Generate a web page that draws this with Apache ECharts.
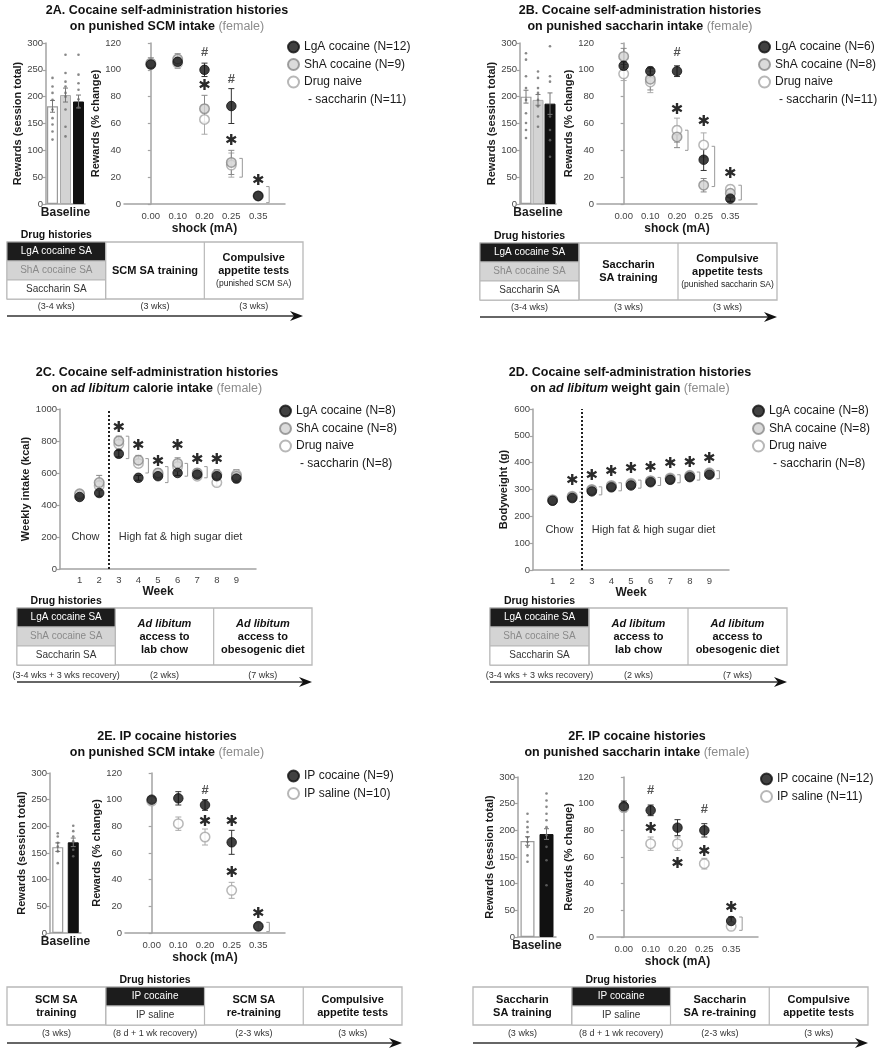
<!DOCTYPE html>
<html><head><meta charset="utf-8">
<script src="https://cdn.jsdelivr.net/npm/echarts/dist/echarts.min.js"></script>
<style>html,body{margin:0;padding:0;background:#fff}#c{width:885px;height:1050px}</style>
</head><body><div id="c"></div>
<script>
// ================= DATA =================
const shockLabels = ['0.00', '0.10', '0.20', '0.25', '0.35'];
const shockPos = [0, 1, 2, 3, 4];
const weekPos = [1, 2, 3, 4, 5, 6, 7, 8, 9];
const dietSwitchWeek = 2.5;

// ---- 2A ----
const A_barGroups = ['Saccharin SA', 'ShA cocaine SA', 'LgA cocaine SA'];
const A_barMean = [182, 203, 191];
const A_barSem = [11, 13, 12];
const A_dotsNaive = [235, 219, 207, 194, 176, 160, 148, 135, 120];
const A_dotsShA = [278, 244, 228, 219, 207, 200, 176, 144, 126];
const A_dotsLgA = [278, 241, 225, 213, 195, 180];
const A_names = ['LgA cocaine (N=12)', 'ShA cocaine (N=9)', 'Drug naive'];
const A_nameCont = '- saccharin (N=11)';
const A_LgA = [104, 106, 100, 73, 6];
const A_LgA_sem = [3, 3, 5, 13, 2];
const A_ShA = [105, 108, 71, 31, 6];
const A_ShA_sem = [4, 4, 10, 9, 2];
const A_naive = [104, 105, 63, 29, 6];
const A_naive_sem = [3, 4, 11, 9, 2];
const A_stars = [[2, 88], [3, 47], [4, 17]];
const A_hashes = [[2, 113], [3, 93]];
const A_brackets = [[3, 20, 34], [4, 1, 13]];

// ---- 2B ----
const B_barMean = [200, 194, 187];
const B_barSem = [12, 10, 20];
const B_dotsNaive = [281, 269, 238, 216, 194, 169, 151, 138, 123];
const B_dotsShA = [247, 235, 216, 207, 194, 182, 163, 144];
const B_dotsLgA = [294, 238, 228, 163, 138, 119, 88];
const B_names = ['LgA cocaine (N=6)', 'ShA cocaine (N=8)', 'Drug naive'];
const B_nameCont = '- saccharin (N=11)';
const B_LgA = [103, 99, 99, 33, 4];
const B_LgA_sem = [3, 3, 4, 8, 2];
const B_ShA = [110, 93, 50, 14, 8];
const B_ShA_sem = [6, 8, 8, 5, 3];
const B_naive = [97, 91, 55, 44, 11];
const B_naive_sem = [5, 8, 9, 9, 3];
const B_stars = [[2, 70], [3, 61], [4, 22]];
const B_hashes = [[2, 113]];
const B_brackets = [[2, 40, 55], [3, 13, 43], [4, 3, 14]];

// ---- 2C ----
const C_names = ['LgA cocaine (N=8)', 'ShA cocaine (N=8)', 'Drug naive'];
const C_nameCont = '- saccharin (N=8)';
const C_LgA = [450, 475, 720, 570, 580, 600, 590, 580, 565];
const C_LgA_sem = [15, 20, 20, 15, 15, 15, 15, 20, 15];
const C_ShA = [470, 540, 800, 680, 600, 660, 600, 590, 580];
const C_ShA_sem = [20, 45, 30, 30, 25, 35, 25, 30, 40];
const C_naive = [460, 520, 780, 660, 590, 640, 580, 540, 590];
const C_naive_sem = [20, 30, 25, 25, 20, 25, 20, 20, 30];
const C_stars = [[3, 880], [4, 770], [5, 670], [6, 770], [7, 680], [8, 680]];
const C_brackets = [[3, 690, 830], [4, 600, 690], [5, 540, 640], [6, 580, 660], [7, 570, 640]];
const C_regionText = ['Chow', 'High fat & high sugar diet'];
const C_regionPos = [[1.3, 200], [6.15, 200]];

// ---- 2D ----
const D_LgA = [258, 268, 293, 308, 315, 327, 336, 346, 355];
const D_LgA_sem = [6, 6, 6, 6, 6, 6, 7, 7, 7];
const D_ShA = [260, 272, 298, 312, 320, 331, 340, 350, 360];
const D_ShA_sem = [6, 7, 7, 7, 7, 7, 7, 8, 8];
const D_naive = [262, 275, 300, 315, 323, 333, 343, 353, 362];
const D_naive_sem = [6, 7, 7, 7, 7, 7, 8, 8, 8];
const D_stars = [[2, 330], [3, 350], [4, 363], [5, 375], [6, 381], [7, 395], [8, 400], [9, 412]];
const D_brackets = [[2, 255, 290], [3, 280, 310], [4, 295, 325], [5, 305, 335], [6, 315, 345], [7, 325, 355], [8, 335, 365], [9, 340, 370]];
const D_regionPos = [[1.35, 150], [6.15, 150]];

// ---- 2E ----
const E_barGroups = ['IP saline', 'IP cocaine'];
const E_barMean = [161, 170];
const E_barSem = [8, 8];
const E_dotsSaline = [187, 181, 169, 162, 153, 131];
const E_dotsCocaine = [201, 191, 181, 172, 156, 144];
const E_names = ['IP cocaine (N=9)', 'IP saline (N=10)'];
const E_cocaine = [100, 101, 96, 68, 5];
const E_cocaine_sem = [2, 5, 4, 9, 2];
const E_saline = [99, 82, 72, 32, 5];
const E_saline_sem = [2, 5, 6, 6, 2];
const E_stars = [[2, 83], [3, 83], [3, 45], [4, 14]];
const E_hashes = [[2, 107]];
const E_brackets = [[4, 1, 8]];

// ---- 2F ----
const F_barMean = [180, 193];
const F_barSem = [8, 10];
const F_dotsSaline = [231, 216, 206, 197, 187, 178, 169, 153, 141];
const F_dotsCocaine = [269, 256, 244, 231, 219, 206, 191, 169, 144, 97];
const F_names = ['IP cocaine (N=12)', 'IP saline (N=11)'];
const F_cocaine = [98, 95, 82, 80, 12];
const F_cocaine_sem = [4, 4, 6, 5, 3];
const F_saline = [97, 70, 70, 55, 8];
const F_saline_sem = [3, 5, 5, 4, 2];
const F_stars = [[1, 81], [2, 55], [3, 64], [4, 22]];
const F_hashes = [[1, 110], [3, 96]];
const F_brackets = [[4, 5, 15]];

// ---- text ----
const titles = [
  ['2A. Cocaine self-administration histories', '{b|on punished SCM intake }{g|(female)}'],
  ['2B. Cocaine self-administration histories', '{b|on punished saccharin intake }{g|(female)}'],
  ['2C. Cocaine self-administration histories', '{b|on }{i|ad libitum}{b| calorie intake }{g|(female)}'],
  ['2D. Cocaine self-administration histories', '{b|on }{i|ad libitum}{b| weight gain }{g|(female)}'],
  ['2E. IP cocaine histories', '{b|on punished SCM intake }{g|(female)}'],
  ['2F. IP cocaine histories', '{b|on punished saccharin intake }{g|(female)}']
];
const histRows3 = ['LgA cocaine SA', 'ShA cocaine SA', 'Saccharin SA'];
const histRows2 = ['IP cocaine', 'IP saline'];
const flowA = [histRows3, '{b|SCM SA training}', '{b|Compulsive}\n{b|appetite tests}\n{r|(punished SCM SA)}'];
const flowB = [histRows3, '{b|Saccharin}\n{b|SA training}', '{b|Compulsive}\n{b|appetite tests}\n{r|(punished saccharin SA)}'];
const flowCD = [histRows3, '{bi|Ad libitum}\n{b|access to}\n{b|lab chow}', '{bi|Ad libitum}\n{b|access to}\n{b|obesogenic diet}'];
const flowE = ['{b|SCM SA}\n{b|training}', histRows2, '{b|SCM SA}\n{b|re-training}', '{b|Compulsive}\n{b|appetite tests}'];
const flowF = ['{b|Saccharin}\n{b|SA training}', histRows2, '{b|Saccharin}\n{b|SA re-training}', '{b|Compulsive}\n{b|appetite tests}'];
const durAB = ['(3-4 wks)', '(3 wks)', '(3 wks)'];
const durCD = ['(3-4 wks + 3 wks recovery)', '(2 wks)', '(7 wks)'];
const durEF = ['(3 wks)', '(8 d + 1 wk recovery)', '(2-3 wks)', '(3 wks)'];

// ================= BUILD =================
const FONT = "'Liberation Sans',Arial,sans-serif";
const STARFONT = "'DejaVu Sans',sans-serif";
const AXC = '#a3a3a3';
const TXT = '#1a1a1a';
const grids = [], xAxes = [], yAxes = [], series = [], legends = [], graphics = [];

function addGrid(l, t, w, h) { grids.push({left: l, top: t, width: w, height: h}); return grids.length - 1; }

function valueY(gi, min, max, step, name, gap) {
  yAxes.push({gridIndex: gi, type: 'value', min, max, interval: step, name, nameLocation: 'middle', nameGap: gap, nameRotate: 90,
    nameTextStyle: {fontFamily: FONT, fontWeight: 'bold', fontSize: 11, color: TXT},
    axisLine: {show: true, lineStyle: {color: AXC, width: 1.5}},
    axisTick: {show: true, length: 3, lineStyle: {color: AXC, width: 1.2}},
    axisLabel: {fontFamily: FONT, fontSize: 9.5, color: '#444', margin: 3, formatter: v => String(v)},
    splitLine: {show: false}});
  return yAxes.length - 1;
}
function shockX(gi) {
  xAxes.push({gridIndex: gi, type: 'value', min: -1, max: 5, interval: 1, name: 'shock (mA)', nameLocation: 'middle', nameGap: 19,
    nameTextStyle: {fontFamily: FONT, fontWeight: 'bold', fontSize: 12, color: TXT},
    axisLine: {onZero: false, lineStyle: {color: AXC, width: 1.5}}, axisTick: {show: false}, splitLine: {show: false},
    axisLabel: {fontFamily: FONT, fontSize: 9.5, color: '#444', margin: 7,
      formatter: v => { const k = shockPos.indexOf(v); return k >= 0 ? shockLabels[k] : ''; }}});
  return xAxes.length - 1;
}
function weekX(gi) {
  xAxes.push({gridIndex: gi, type: 'value', min: 0, max: 10, interval: 1, name: 'Week', nameLocation: 'middle', nameGap: 14,
    nameTextStyle: {fontFamily: FONT, fontWeight: 'bold', fontSize: 12, color: TXT},
    axisLine: {onZero: false, lineStyle: {color: AXC, width: 1.5}}, axisTick: {show: false}, splitLine: {show: false},
    axisLabel: {fontFamily: FONT, fontSize: 9.5, color: '#444', margin: 6,
      formatter: v => weekPos.indexOf(v) >= 0 ? String(v) : ''}});
  return xAxes.length - 1;
}

function errRenderer(color, cap) {
  return function (p, api) {
    const x = api.value(0);
    const a = api.coord([x, api.value(1)]), b = api.coord([x, api.value(2)]);
    const st = {stroke: color, lineWidth: 1};
    return {type: 'group', children: [
      {type: 'line', shape: {x1: a[0], y1: a[1], x2: b[0], y2: b[1]}, style: st},
      {type: 'line', shape: {x1: a[0] - cap, y1: a[1], x2: a[0] + cap, y2: a[1]}, style: st},
      {type: 'line', shape: {x1: b[0] - cap, y1: b[1], x2: b[0] + cap, y2: b[1]}, style: st}]};
  };
}
function markRenderer(ch, color, font) {
  return function (p, api) {
    const c = api.coord([api.value(0), api.value(1)]);
    return {type: 'text', x: c[0], y: c[1], style: {text: ch, fill: color, font: font, align: 'center', verticalAlign: 'middle', textAlign: 'center', textVerticalAlign: 'middle'}};
  };
}
function bracketRenderer(color, dx) {
  return function (p, api) {
    const x = api.value(0);
    const a = api.coord([x, api.value(1)]), b = api.coord([x, api.value(2)]);
    return {type: 'polyline', shape: {points: [[a[0] + dx, a[1]], [a[0] + dx + 3, a[1]], [a[0] + dx + 3, b[1]], [a[0] + dx, b[1]]]},
      style: {stroke: color, fill: null, lineWidth: 1}};
  };
}
function textRenderer(texts, font, color) {
  return function (p, api) {
    const c = api.coord([api.value(0), api.value(1)]);
    return {type: 'text', x: c[0], y: c[1], style: {text: texts[p.dataIndex], fill: color, font: font, align: 'center', verticalAlign: 'middle', textAlign: 'center', textVerticalAlign: 'middle'}};
  };
}

const BAR_WHITE = {color: '#fff', borderColor: '#9a9a9a', borderWidth: 1.2};
const BAR_GRAY = {color: '#d3d3d3', borderColor: '#aaa', borderWidth: 1};
const BAR_BLACK = {color: '#111', borderColor: '#111', borderWidth: 1};

function barPanel(box, groups, means, sems, dots, styles, barW) {
  const gi = addGrid(box[0], box[1], box[2], box[3]);
  xAxes.push({gridIndex: gi, type: 'category', data: groups, name: 'Baseline', nameLocation: 'middle', nameGap: 3,
    nameTextStyle: {fontFamily: FONT, fontWeight: 'bold', fontSize: 12, color: TXT},
    axisLine: {lineStyle: {color: AXC, width: 1.5}}, axisTick: {show: false}, axisLabel: {show: false}});
  const xi = xAxes.length - 1;
  const yi = valueY(gi, 0, 300, 50, 'Rewards (session total)', 22);
  series.push({type: 'bar', name: 'baseline' + gi, xAxisIndex: xi, yAxisIndex: yi, barWidth: barW, silent: true, z: 2,
    data: means.map((v, i) => ({value: v, itemStyle: styles[i]}))});
  series.push({type: 'custom', name: 'baseerr' + gi, xAxisIndex: xi, yAxisIndex: yi, z: 3, silent: true,
    data: means.map((v, i) => [i, v - sems[i], v + sems[i]]), renderItem: errRenderer('#777', 2.5)});
  dots.forEach((arr, i) => series.push({type: 'scatter', name: 'dots' + gi + '_' + i, xAxisIndex: xi, yAxisIndex: yi, silent: true,
    symbolSize: 2.6, z: 4, itemStyle: {color: '#6a6a6a'}, data: arr.map(v => [i, v])}));
}

const PT_LGA = {color: '#111', borderColor: '#111', borderWidth: 1};
const PT_SHA = {color: '#d2d2d2', borderColor: '#8a8a8a', borderWidth: 1.5};
const PT_NAIVE = {color: '#fff', borderColor: '#a5a5a5', borderWidth: 1.5};

function groupSeries(xi, yi, xs, name, mean, sem, style, errColor, extra) {
  series.push({type: 'custom', name: 'err ' + name + xi, xAxisIndex: xi, yAxisIndex: yi, z: 2, silent: true,
    data: mean.map((m, i) => [xs[i], m - sem[i], m + sem[i]]), renderItem: errRenderer(errColor, 3)});
  const s = {type: 'scatter', name, xAxisIndex: xi, yAxisIndex: yi, z: 3, symbol: 'circle', symbolSize: 9.5, itemStyle: style,
    data: mean.map((m, i) => [xs[i], m])};
  if (extra) Object.assign(s, extra);
  series.push(s);
}
function annotations(xi, yi, stars, hashes, brackets, dx) {
  if (brackets && brackets.length) series.push({type: 'custom', name: 'br' + xi, xAxisIndex: xi, yAxisIndex: yi, z: 4, silent: true,
    data: brackets, renderItem: bracketRenderer('#999', dx)});
  if (stars && stars.length) series.push({type: 'custom', name: 'st' + xi, xAxisIndex: xi, yAxisIndex: yi, z: 5, silent: true,
    data: stars, renderItem: markRenderer('\u2731', '#2a2a2a', 'bold 15px ' + STARFONT)});
  if (hashes && hashes.length) series.push({type: 'custom', name: 'hs' + xi, xAxisIndex: xi, yAxisIndex: yi, z: 5, silent: true,
    data: hashes, renderItem: markRenderer('#', '#555', 'bold 13px ' + FONT)});
}
const LEG_ROW = 17.5;
function legendAt(left, top, names, cont) {
  legends.push({left, top, orient: 'vertical', padding: 0, itemGap: 3.5, itemWidth: 11, itemHeight: 11, icon: 'circle', selectedMode: false,
    textStyle: {fontFamily: FONT, fontSize: 12, color: TXT, lineHeight: 14},
    data: names});
  if (cont) {
    graphics.push({type: 'text', x: left + 21, y: top + 7 + LEG_ROW * 3,
      style: {text: cont, font: '12px ' + FONT, fill: TXT, align: 'left', verticalAlign: 'middle', textAlign: 'left', textVerticalAlign: 'middle'}});
  }
}
function lineShock(box, yName) {
  const gi = addGrid(box[0], box[1], box[2], box[3]);
  const xi = shockX(gi);
  const yi = valueY(gi, 0, 120, 20, yName, 18);
  return [xi, yi];
}

const TITLE_RICH = {
  b: {fontFamily: FONT, fontWeight: 'bold', fontSize: 12.5, fill: '#111'},
  i: {fontFamily: FONT, fontWeight: 'bold', fontStyle: 'italic', fontSize: 12.5, fill: '#111'},
  g: {fontFamily: FONT, fontWeight: 'normal', fontSize: 12.5, fill: '#8c8c8c'}
};
function titleAt(cx, y, t) {
  graphics.push({type: 'text', x: cx, y: y, style: {text: t[0], font: 'bold 12.5px ' + FONT, fill: '#111', align: 'center', verticalAlign: 'middle', textAlign: 'center', textVerticalAlign: 'middle'}});
  graphics.push({type: 'text', x: cx, y: y + 16, style: {text: t[1], rich: TITLE_RICH, font: 'bold 12.5px ' + FONT, fill: '#111', align: 'center', verticalAlign: 'middle', textAlign: 'center', textVerticalAlign: 'middle'}});
}

const CELL_RICH = {
  b: {fontFamily: FONT, fontWeight: 'bold', fontSize: 11, fill: '#111', lineHeight: 13},
  bi: {fontFamily: FONT, fontWeight: 'bold', fontStyle: 'italic', fontSize: 11, fill: '#111', lineHeight: 13},
  r: {fontFamily: FONT, fontSize: 8.5, fill: '#222', lineHeight: 12}
};
const HIST3 = [{bg: '#1c1c1c', fg: '#fff'}, {bg: '#d4d4d4', fg: '#8a8a8a'}, {bg: '#fff', fg: '#333'}];
const HIST2 = [{bg: '#1c1c1c', fg: '#fff'}, {bg: '#fff', fg: '#333'}];
function ctext(x, y, text, font, fill, extra) {
  const o = {type: 'text', x, y, style: {text, font, fill, align: 'center', verticalAlign: 'middle', textAlign: 'center', textVerticalAlign: 'middle'}};
  if (extra) Object.assign(o.style, extra);
  graphics.push(o);
}
function flowchart(x0, y0, w, h, cols, durs, durGap, arrowGap) {
  const n = cols.length, cw = w / n;
  graphics.push({type: 'rect', shape: {x: x0, y: y0, width: w, height: h}, style: {fill: '#fff', stroke: '#b8b8b8', lineWidth: 1.3}});
  cols.forEach((c, i) => {
    const cx = x0 + i * cw;
    if (Array.isArray(c)) {
      const rh = h / c.length;
      const kinds = c.length === 3 ? HIST3 : HIST2;
      c.forEach((t, j) => {
        graphics.push({type: 'rect', shape: {x: cx, y: y0 + j * rh, width: cw, height: rh}, style: {fill: kinds[j].bg, stroke: '#b8b8b8', lineWidth: 1}});
        ctext(cx + cw / 2, y0 + j * rh + rh / 2, t, '10px ' + FONT, kinds[j].fg);
      });
      ctext(cx + cw / 2, y0 - 7, 'Drug histories', 'bold 10.5px ' + FONT, '#111');
    } else {
      ctext(cx + cw / 2, y0 + h / 2, c, 'bold 11px ' + FONT, '#111', {rich: CELL_RICH});
    }
    if (i > 0) graphics.push({type: 'line', shape: {x1: cx, y1: y0, x2: cx, y2: y0 + h}, style: {stroke: '#b8b8b8', lineWidth: 1.2}});
    ctext(cx + cw / 2, y0 + h + durGap, durs[i], '9px ' + FONT, '#333');
  });
  const ay = y0 + h + arrowGap;
  graphics.push({type: 'line', shape: {x1: x0, y1: ay, x2: x0 + w - 8, y2: ay}, style: {stroke: '#333', lineWidth: 1.3}});
  graphics.push({type: 'polygon', shape: {points: [[x0 + w - 13, ay - 5], [x0 + w, ay], [x0 + w - 13, ay + 5], [x0 + w - 9, ay]]}, style: {fill: '#111'}});
}

// ---------- Panel 2A ----------
titleAt(167, 11, titles[0]);
barPanel([46, 43, 39, 161], A_barGroups, A_barMean, A_barSem, [A_dotsNaive, A_dotsShA, A_dotsLgA], [BAR_WHITE, BAR_GRAY, BAR_BLACK], 11);
(function () {
  const [xi, yi] = lineShock([124, 43, 161, 161], 'Rewards (% change)');
  groupSeries(xi, yi, shockPos, A_names[2], A_naive, A_naive_sem, PT_NAIVE, '#aaa');
  groupSeries(xi, yi, shockPos, A_names[1], A_ShA, A_ShA_sem, PT_SHA, '#888');
  groupSeries(xi, yi, shockPos, A_names[0], A_LgA, A_LgA_sem, PT_LGA, '#333');
  annotations(xi, yi, A_stars, A_hashes, A_brackets, 8);
})();
legendAt(287, 40, A_names, A_nameCont);
flowchart(7, 242, 296, 57, flowA, durAB, 8, 17);

// ---------- Panel 2B ----------
titleAt(640, 11, titles[1]);
barPanel([520, 43, 36, 161], A_barGroups, B_barMean, B_barSem, [B_dotsNaive, B_dotsShA, B_dotsLgA], [BAR_WHITE, BAR_GRAY, BAR_BLACK], 11);
(function () {
  const [xi, yi] = lineShock([597, 43, 160, 161], 'Rewards (% change)');
  groupSeries(xi, yi, shockPos, B_names[2], B_naive, B_naive_sem, PT_NAIVE, '#aaa');
  groupSeries(xi, yi, shockPos, B_names[1], B_ShA, B_ShA_sem, PT_SHA, '#888');
  groupSeries(xi, yi, shockPos, B_names[0], B_LgA, B_LgA_sem, PT_LGA, '#333');
  annotations(xi, yi, B_stars, B_hashes, B_brackets, 8);
})();
legendAt(758, 40, B_names, B_nameCont);
flowchart(480, 243, 297, 57, flowB, durAB, 8, 17);

// ---------- Panel 2C / 2D ----------
function weekPanel(box, yMax, yStep, yName, yGap, naive, naiveSem, sha, shaSem, lga, lgaSem, stars, brackets, regionPos) {
  const gi = addGrid(box[0], box[1], box[2], box[3]);
  const xi = weekX(gi);
  const yi = valueY(gi, 0, yMax, yStep, yName, yGap);
  groupSeries(xi, yi, weekPos, C_names[2], naive, naiveSem, PT_NAIVE, '#aaa', {
    markLine: {silent: true, symbol: 'none', label: {show: false}, lineStyle: {type: 'dotted', color: '#222', width: 2},
      data: [{xAxis: dietSwitchWeek}]}});
  groupSeries(xi, yi, weekPos, C_names[1], sha, shaSem, PT_SHA, '#888');
  groupSeries(xi, yi, weekPos, C_names[0], lga, lgaSem, PT_LGA, '#333');
  annotations(xi, yi, stars, [], brackets, 7);
  series.push({type: 'custom', name: 'region' + gi, xAxisIndex: xi, yAxisIndex: yi, z: 5, silent: true,
    data: regionPos, renderItem: textRenderer(C_regionText, '11px ' + FONT, '#333')});
}
titleAt(157, 373, titles[2]);
weekPanel([60, 409, 196, 160], 1000, 200, 'Weekly intake (kcal)', 25, C_naive, C_naive_sem, C_ShA, C_ShA_sem, C_LgA, C_LgA_sem, C_stars, C_brackets, C_regionPos);
legendAt(279, 404, C_names, C_nameCont);
flowchart(17, 608, 295, 57, flowCD, durCD, 11, 17);

titleAt(630, 373, titles[3]);
weekPanel([533, 409, 196, 161], 600, 100, 'Bodyweight (g)', 24, D_naive, D_naive_sem, D_ShA, D_ShA_sem, D_LgA, D_LgA_sem, D_stars, D_brackets, D_regionPos);
legendAt(752, 404, C_names, C_nameCont);
flowchart(490, 608, 297, 57, flowCD, durCD, 11, 17);

// ---------- Panel 2E ----------
titleAt(167, 737, titles[4]);
barPanel([50, 773, 31, 160], E_barGroups, E_barMean, E_barSem, [E_dotsSaline, E_dotsCocaine], [BAR_WHITE, BAR_BLACK], 11);
(function () {
  const [xi, yi] = lineShock([125, 773, 160, 160], 'Rewards (% change)');
  groupSeries(xi, yi, shockPos, E_names[1], E_saline, E_saline_sem, PT_NAIVE, '#aaa');
  groupSeries(xi, yi, shockPos, E_names[0], E_cocaine, E_cocaine_sem, PT_LGA, '#333');
  annotations(xi, yi, E_stars, E_hashes, E_brackets, 8);
})();
legendAt(287, 769, E_names);
flowchart(7, 987, 395, 38, flowE, durEF, 9, 18);

// ---------- Panel 2F ----------
titleAt(637, 737, titles[5]);
barPanel([518, 777, 38, 160], E_barGroups, F_barMean, F_barSem, [F_dotsSaline, F_dotsCocaine], [BAR_WHITE, BAR_BLACK], 14);
(function () {
  const [xi, yi] = lineShock([597, 777, 161, 160], 'Rewards (% change)');
  groupSeries(xi, yi, shockPos, F_names[1], F_saline, F_saline_sem, PT_NAIVE, '#aaa');
  groupSeries(xi, yi, shockPos, F_names[0], F_cocaine, F_cocaine_sem, PT_LGA, '#333');
  annotations(xi, yi, F_stars, F_hashes, F_brackets, 8);
})();
legendAt(760, 772, F_names);
flowchart(473, 987, 395, 38, flowF, durEF, 9, 18);

const chart = echarts.init(document.getElementById('c'), null, {renderer: 'canvas'});
chart.setOption({
  animation: false,
  backgroundColor: '#fff',
  textStyle: {fontFamily: FONT},
  grid: grids, xAxis: xAxes, yAxis: yAxes, legend: legends, series: series,
  graphic: {elements: graphics}
});
</script></body></html>
